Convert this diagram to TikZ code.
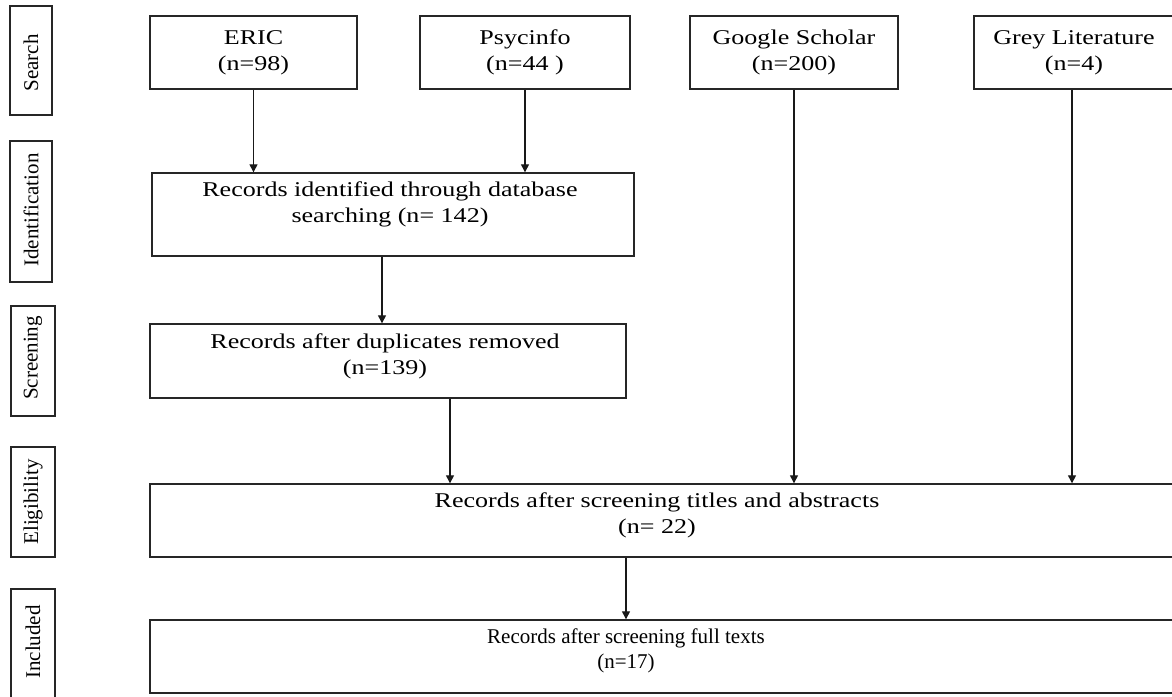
\documentclass[tikz,border=0pt]{standalone}
\usepackage{fontspec}
\setmainfont{Liberation Serif}
\newfontfamily\wideserif{Liberation Serif}[FakeStretch=1.24]
\usetikzlibrary{arrows.meta}
\begin{document}
\begin{tikzpicture}[x=1pt,y=-1pt,
  box/.style={draw=black!85,line width=1.4pt,rectangle,inner sep=0pt},
  side/.style={box},
  wtxt/.style={font=\wideserif\fontsize{21}{26}\selectfont,align=center,inner sep=0pt},
  ntxt/.style={font=\fontsize{21}{25}\selectfont,align=center,inner sep=0pt},
  arr/.style={line width=1.3pt,draw=black!90,-{Triangle[length=8pt,width=8pt]}}]
\useasboundingbox (0,0) rectangle (1172,696);
% side labels
\node[side,minimum width=42pt,minimum height=109pt] (lsearch) at (31,60.5) {};
\node[ntxt,rotate=90] (tsearch) at (31,63) {Search};
\node[side,minimum width=42pt,minimum height=141pt] (lident) at (31,211.5) {};
\node[ntxt,rotate=90] (tident) at (31,210) {Identification};
\node[side,minimum width=44pt,minimum height=110pt] (lscreen) at (33,361) {};
\node[ntxt,rotate=90] (tscreen) at (33,358) {Screening};
\node[side,minimum width=44pt,minimum height=110pt] (lelig) at (33,502) {};
\node[ntxt,rotate=90] (telig) at (33,502) {Eligibility};
\node[side,minimum width=44pt,minimum height=112pt] (lincl) at (33,645) {};
\node[ntxt,rotate=90] (tincl) at (33,642) {Included};
% search boxes
\node[box,wtxt,minimum width=207pt,minimum height=73pt] (eric) at (253.5,52.5) {ERIC\\(n=98)};
\node[box,wtxt,minimum width=210pt,minimum height=73pt] (psy) at (525,52.5) {Psycinfo\\(n=44 )};
\node[box,wtxt,minimum width=208pt,minimum height=73pt] (gs) at (794,52.5) {Google Scholar\\(n=200)};
\node[box,wtxt,minimum width=200pt,minimum height=73pt] (grey) at (1074,52.5) {Grey Literature\\(n=4)};
% identification
\node[box,minimum width=482pt,minimum height=83pt] (id) at (393,214.5) {};
\node[wtxt] (idt) at (390,204) {Records identified through database\\searching (n= 142)};
% screening
\node[box,minimum width=476pt,minimum height=74pt] (sc) at (388,361) {};
\node[wtxt] (sct) at (385,356) {Records after duplicates removed\\(n=139)};
% eligibility
\node[box,minimum width=1034pt,minimum height=73pt] (el) at (667,520.5) {};
\node[wtxt] (elt) at (657,515) {Records after screening titles and abstracts\\(n= 22)};
% included
\node[box,minimum width=1034pt,minimum height=73pt] (inc) at (667,656.5) {};
\node[ntxt] (inct) at (626,651) {Records after screening full texts\\(n=17)};
% arrows
\draw[arr] (eric.south) -- (eric.south |- id.north);
\draw[arr] (psy.south) -- (psy.south |- id.north);
\draw[arr] ([xshift=-11pt]id.south) -- ([xshift=-11pt]id.south |- sc.north);
\draw[arr] ([xshift=62pt]sc.south) -- ([xshift=62pt]sc.south |- el.north);
\draw[arr] (gs.south) -- (gs.south |- el.north);
\draw[arr] ([xshift=-2pt]grey.south) -- ([xshift=-2pt]grey.south |- el.north);
\draw[arr] ([xshift=-41pt]el.south) -- ([xshift=-41pt]el.south |- inc.north);
\end{tikzpicture}
\end{document}
